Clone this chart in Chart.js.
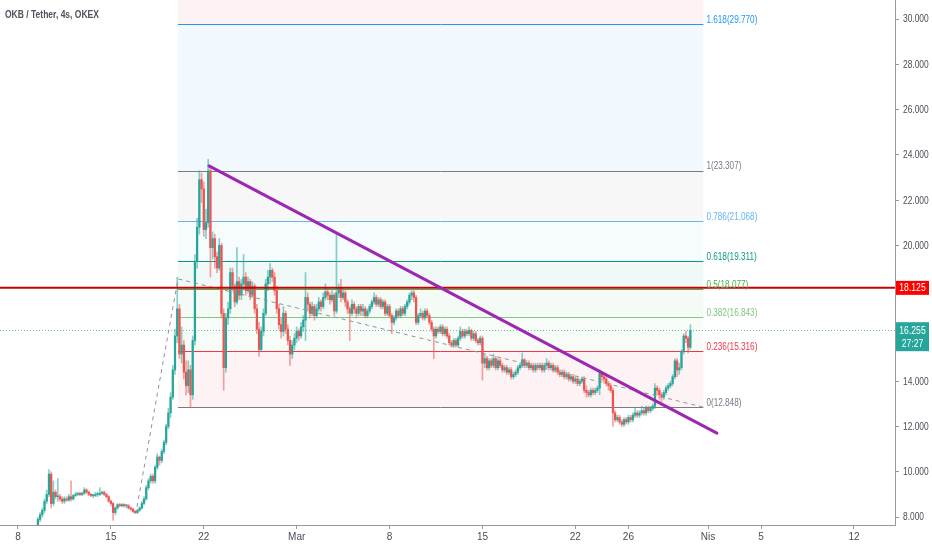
<!DOCTYPE html>
<html>
<head>
<meta charset="utf-8">
<script src="https://cdn.jsdelivr.net/npm/chart.js@4.4.1/dist/chart.umd.min.js"></script>
<style>
  html, body { margin: 0; padding: 0; background: #ffffff; }
  #wrap { width: 932px; height: 550px; position: relative; }
</style>
</head>
<body>
<div id="wrap"><canvas id="okbChart"></canvas></div>
<script>
// 4h candles, time in days counted from Feb 8 00:00; first candle is Feb 9 12:00
const firstCandleDay = 1.5;
const firstOpen = 7.6;

const closes = [
  7.9, 8.1, 8.3,                          // Feb 9
  8.7, 9.0, 9.9, 8.6, 9.1, 8.9,           // Feb 10
  8.9, 8.8, 8.7, 8.8, 8.75, 8.9,
  8.8, 8.95, 9.0, 9.05, 9.0, 9.05,
  9.2, 9.1, 9.0, 8.95, 8.95, 9.0,
  9.0, 9.05, 9.1, 9.0, 8.9, 8.7,
  8.6, 8.2, 8.4, 8.55, 8.5, 8.55,         // Feb 15
  8.5, 8.5, 8.4, 8.35, 8.25, 8.2,
  8.3, 8.4, 8.6, 8.8, 9.3, 9.6,
  9.8, 9.6, 10.2, 10.65, 10.5, 10.9,
  11.3, 12.0, 12.6, 13.3, 14.5, 16.0,
  17.2, 15.2, 15.6, 14.4, 13.8, 14.5,     // Feb 20
  13.4, 15.8, 19.3, 20.8, 22.9, 22.5,
  20.7, 21.0, 23.3, 19.9, 20.3, 19.5,
  19.0, 20.0, 17.0, 14.6, 16.8, 17.2,
  18.8, 18.2, 17.5, 18.4, 17.8, 18.3,
  18.6, 18.0, 18.4, 17.8, 18.2, 17.2,     // Feb 25
  16.3, 15.4, 16.2, 17.0, 18.3, 18.6,
  18.9, 18.6, 18.0, 17.2, 16.5, 16.2,
  17.0, 16.3, 15.8, 15.2, 15.6, 15.9,
  16.2, 16.0, 16.4, 16.7, 17.7, 17.4,     // Mar 1
  17.0, 17.3, 16.9, 17.2, 17.5, 17.3,
  17.7, 17.95, 17.8, 17.6, 17.8, 17.1,
  17.9, 18.1, 17.7, 17.9, 17.5, 17.2,
  17.0, 17.4, 17.2, 17.0, 17.3, 17.1,     // Mar 5
  17.2, 16.9, 17.1, 17.3, 17.5, 17.7,
  17.4, 17.6, 17.3, 17.5, 17.0, 17.3,
  16.9, 16.6, 16.8, 17.1, 16.9, 17.2,
  17.0, 17.3, 17.5, 17.8, 17.9, 17.7,
  16.6, 16.9, 17.0, 16.8, 17.1, 16.9,     // Mar 10
  16.6, 16.3, 16.0, 16.3, 16.2, 16.4,
  16.1, 16.3, 16.0, 15.7, 15.6, 15.8,
  15.6, 15.9, 16.2, 16.0, 16.2, 16.1,
  16.25, 15.9, 16.1, 15.8, 15.7, 15.9,
  14.8, 15.0, 14.6, 14.9, 14.7, 15.0,     // Mar 15
  14.6, 14.9, 14.7, 14.5, 14.6, 14.4,
  14.5, 14.2, 14.3, 14.4, 14.6, 14.7,
  14.95, 14.7, 14.8, 14.6, 14.7, 14.5,
  14.7, 14.6, 14.7, 14.5, 14.7, 14.8,
  14.6, 14.7, 14.5, 14.6, 14.4, 14.3,     // Mar 20
  14.4, 14.2, 14.3, 14.1, 14.2, 14.0,
  14.1, 13.9, 14.0, 14.1, 13.6, 13.5,
  13.4, 13.6, 13.5, 13.6, 13.7, 14.35,
  14.2, 14.1, 13.9, 13.8, 13.6, 12.6,
  12.3, 12.4, 12.2, 12.1, 12.3, 12.2,     // Mar 25
  12.4, 12.3, 12.5, 12.6, 12.5, 12.6,
  12.7, 12.6, 12.8, 12.7, 12.8, 12.9,
  13.7, 13.6, 13.4, 13.3, 13.5, 13.7,
  13.8, 13.9, 14.2, 14.9, 14.5, 14.6,
  15.3, 16.0, 15.9, 15.5, 16.255          // Mar 30
];

const highs = [
  8.0, 8.2, 8.4,
  8.8, 9.2, 10.1, 10.0, 9.6, 9.2,
  9.7, 9.0, 8.9, 8.9, 8.9, 9.0,
  9.6, 9.0, 9.1, 9.1, 9.1, 9.1,
  9.3, 9.25, 9.15, 9.05, 9.0, 9.1,
  9.1, 9.3, 9.15, 9.15, 9.05, 8.95,
  8.75, 8.65, 8.45, 8.6, 8.6, 8.6,
  8.6, 8.55, 8.55, 8.45, 8.4, 8.3,
  8.35, 8.45, 8.7, 8.9, 9.4, 9.7,
  9.9, 9.9, 10.3, 10.8, 10.7, 11.0,
  11.4, 12.1, 12.8, 13.5, 14.7, 16.3,
  18.6, 17.4, 16.4, 15.8, 14.9, 14.9,
  14.7, 16.0, 19.6, 21.2, 23.3, 23.2,
  22.8, 21.6, 23.8, 23.4, 20.6, 20.5,
  19.7, 20.3, 20.1, 17.2, 17.0, 17.5,
  19.0, 19.0, 18.3, 19.9, 18.6, 18.5,
  19.6, 18.8, 18.6, 18.5, 18.4, 18.3,
  17.4, 16.6, 16.4, 17.2, 18.5, 18.9,
  19.2, 19.0, 18.8, 18.2, 17.4, 16.8,
  17.3, 17.1, 16.5, 16.0, 15.8, 16.1,
  16.4, 16.3, 16.6, 16.9, 18.8, 17.9,
  17.5, 17.5, 17.4, 17.4, 17.7, 17.6,
  17.9, 18.3, 18.1, 17.9, 18.0, 17.9,
  20.55, 18.3, 18.5, 18.1, 18.0, 17.6,
  17.3, 17.6, 17.5, 17.3, 17.4, 17.4,
  17.4, 17.3, 17.2, 17.4, 17.6, 17.9,
  17.8, 17.7, 17.7, 17.6, 17.6, 17.4,
  17.4, 17.0, 16.9, 17.2, 17.2, 17.3,
  17.3, 17.4, 17.6, 17.9, 18.0, 18.0,
  17.8, 17.0, 17.2, 17.1, 17.2, 17.2,
  17.0, 16.7, 16.4, 16.4, 16.4, 16.5,
  16.5, 16.4, 16.4, 16.1, 15.8, 15.9,
  15.9, 16.0, 16.4, 16.3, 16.3, 16.3,
  16.4, 16.3, 16.2, 16.2, 15.9, 16.0,
  16.0, 15.2, 15.1, 15.0, 15.0, 15.2,
  15.1, 15.0, 15.0, 14.8, 14.7, 14.7,
  14.6, 14.6, 14.4, 14.5, 14.7, 14.8,
  15.25, 15.0, 14.9, 14.9, 14.8, 14.8,
  14.8, 14.8, 14.8, 14.8, 14.8, 15.0,
  14.9, 14.8, 14.8, 14.7, 14.7, 14.5,
  14.5, 14.5, 14.4, 14.4, 14.3, 14.3,
  14.2, 14.2, 14.1, 14.2, 14.2, 13.8,
  13.6, 13.7, 13.7, 13.7, 13.8, 14.5,
  14.4, 14.3, 14.2, 14.0, 13.9, 13.7,
  12.7, 12.5, 12.5, 12.3, 12.4, 12.4,
  12.5, 12.5, 12.6, 12.8, 12.7, 12.7,
  12.9, 12.8, 12.9, 12.9, 12.9, 13.0,
  13.9, 13.8, 13.7, 13.5, 13.6, 13.8,
  13.9, 14.0, 14.3, 15.0, 15.0, 14.8,
  15.4, 16.1, 16.2, 16.0, 16.5
];

const lows = [
  7.5, 7.8, 8.0,
  8.2, 8.6, 8.9, 8.4, 8.5, 8.8,
  8.7, 8.7, 8.6, 8.6, 8.7, 8.7,
  8.7, 8.75, 8.9, 8.95, 8.95, 8.95,
  9.0, 9.05, 8.95, 8.9, 8.85, 8.9,
  8.9, 8.95, 9.0, 8.95, 8.85, 8.65,
  8.5, 7.85, 8.1, 8.35, 8.45, 8.45,
  8.45, 8.4, 8.35, 8.3, 8.2, 8.15,
  8.15, 8.25, 8.35, 8.55, 8.75, 9.2,
  9.5, 9.5, 9.5, 10.1, 10.3, 10.4,
  10.8, 11.2, 11.9, 12.4, 13.2, 14.3,
  15.7, 15.0, 14.8, 14.1, 13.4, 13.5,
  12.85, 13.2, 15.6, 19.0, 20.5, 21.9,
  20.4, 20.3, 20.8, 18.6, 19.4, 19.0,
  18.8, 18.9, 16.8, 13.6, 14.4, 16.5,
  17.0, 18.0, 17.3, 17.4, 17.6, 17.6,
  18.1, 17.8, 17.9, 17.6, 17.7, 17.0,
  16.1, 15.1, 15.3, 16.0, 16.9, 18.0,
  18.3, 18.4, 17.8, 17.0, 16.3, 15.9,
  16.0, 16.1, 15.6, 14.7, 15.0, 15.4,
  15.7, 15.8, 15.9, 16.2, 15.8, 17.1,
  16.8, 16.9, 16.7, 16.8, 17.1, 17.1,
  17.2, 17.6, 17.6, 17.4, 17.5, 16.9,
  17.0, 17.7, 17.5, 17.6, 17.3, 17.0,
  15.8, 16.9, 17.0, 16.8, 16.9, 16.9,
  16.9, 16.8, 16.8, 17.0, 17.2, 17.4,
  17.3, 17.3, 17.2, 17.2, 16.9, 16.9,
  16.8, 16.1, 16.5, 16.7, 16.8, 16.8,
  16.9, 16.9, 17.2, 17.4, 17.6, 17.5,
  16.5, 16.5, 16.8, 16.7, 16.7, 16.8,
  16.5, 16.2, 15.0, 15.9, 16.1, 16.1,
  16.0, 16.0, 15.9, 15.6, 15.5, 15.5,
  15.5, 15.5, 15.8, 15.9, 15.9, 16.0,
  16.0, 15.8, 15.8, 15.7, 15.6, 15.6,
  14.05, 14.6, 14.5, 14.5, 14.6, 14.6,
  14.5, 14.5, 14.6, 14.4, 14.4, 14.3,
  14.3, 14.1, 14.1, 14.2, 14.3, 14.5,
  14.6, 14.6, 14.6, 14.5, 14.5, 14.4,
  14.4, 14.5, 14.5, 14.4, 14.4, 14.6,
  14.5, 14.5, 14.4, 14.4, 14.3, 14.2,
  14.2, 14.1, 14.1, 14.0, 14.0, 13.9,
  13.9, 13.8, 13.8, 13.9, 13.5, 13.3,
  13.3, 13.3, 13.4, 13.4, 13.5, 13.4,
  14.0, 13.9, 13.8, 13.6, 13.5, 12.0,
  12.2, 12.2, 12.1, 12.0, 12.0, 12.1,
  12.1, 12.2, 12.2, 12.4, 12.4, 12.4,
  12.5, 12.5, 12.5, 12.6, 12.6, 12.7,
  12.8, 13.4, 13.2, 13.1, 13.2, 13.4,
  13.6, 13.7, 13.8, 14.1, 14.2, 14.3,
  14.5, 15.2, 15.7, 15.25, 15.4
];

// axis ticks
const priceTicks = [8, 10, 12, 14, 16, 18, 20, 22, 24, 26, 28, 30];
const dateTicks = [0, 7, 14, 21, 28, 35, 42, 46, 52, 56, 63];
const dateLabels = ['8', '15', '22', 'Mar', '8', '15', '22', '26', 'Nis', '5', '12'];

// fibonacci retracement drawing
const fibLevels = ['0', '0.236', '0.382', '0.5', '0.618', '0.786', '1', '1.618'];
const fibPrices = [12.848, 15.316, 16.843, 18.077, 19.311, 21.068, 23.307, 29.770];
const fibColors = ['#787b86', '#f23645', '#81c784', '#4caf50', '#089981', '#64b5f6', '#787b86', '#2196f3'];
const fibAboveColor = '#f23645';
const fibStartDay = 12.05;
const fibEndDay = 51.65;

// drawn trend lines (day, price)
const purpleLine = [[14.39, 23.51], [52.67, 11.71]];
const dashedLine = [[8.97, 8.45], [12.06, 18.52], [51.62, 12.86]];

const resistancePrice = 18.125;
const lastPrice = 16.255;
const countdown = '27:27';

const upColor = '#26a69a';
const downColor = '#ef5350';
const textFont = '"Liberation Sans", Arial, sans-serif';

const opens = closes.map((c, i) => i === 0 ? firstOpen : closes[i - 1]);
const times = closes.map((c, i) => firstCandleDay + i / 6);
const isUp = closes.map((c, i) => c >= opens[i]);

const bodyData = closes.map((c, i) => ({ x: times[i], y: [Math.min(opens[i], c), Math.max(opens[i], c)] }));
const wickData = closes.map((c, i) => ({ x: times[i], y: [lows[i], highs[i]] }));

// TradingView's labels are narrow, so squeeze text horizontally
function narrowText(ctx, text, x, y, squeeze) {
    ctx.save();
    ctx.translate(x, y);
    ctx.scale(squeeze, 1);
    ctx.fillText(text, 0, 0);
    ctx.restore();
}

function clipToArea(ctx, area) {
    ctx.beginPath();
    ctx.rect(area.left, area.top, area.right - area.left, area.bottom - area.top);
    ctx.clip();
}

const overlay = {
    id: 'overlay',
    beforeDatasetsDraw(chart) {
        const { ctx, chartArea, scales } = chart;
        const x = scales.x, y = scales.y;
        ctx.save();
        clipToArea(ctx, chartArea);
        const xl = x.getPixelForValue(fibStartDay);
        const xr = x.getPixelForValue(fibEndDay);
        // fills between levels
        ctx.globalAlpha = 0.06;
        for (let k = 0; k < fibPrices.length; k++) {
            const bot = y.getPixelForValue(fibPrices[k]);
            const top = k + 1 < fibPrices.length ? y.getPixelForValue(fibPrices[k + 1]) : chartArea.top;
            ctx.fillStyle = k + 1 < fibPrices.length ? fibColors[k + 1] : fibAboveColor;
            ctx.fillRect(xl, top, xr - xl, bot - top);
        }
        ctx.globalAlpha = 1;
        // level lines
        ctx.lineWidth = 1;
        fibPrices.forEach((p, k) => {
            const py = Math.round(y.getPixelForValue(p)) + 0.5;
            ctx.strokeStyle = fibColors[k];
            ctx.beginPath();
            ctx.moveTo(xl, py);
            ctx.lineTo(xr, py);
            ctx.stroke();
        });
        // last price dotted line
        const lp = Math.round(y.getPixelForValue(lastPrice)) + 0.5;
        ctx.strokeStyle = 'rgba(38,166,154,0.7)';
        ctx.setLineDash([1, 2]);
        ctx.beginPath();
        ctx.moveTo(chartArea.left, lp);
        ctx.lineTo(chartArea.right, lp);
        ctx.stroke();
        ctx.setLineDash([]);
        ctx.restore();
    },
    afterDatasetsDraw(chart) {
        const { ctx, chartArea, scales } = chart;
        const x = scales.x, y = scales.y;
        ctx.save();
        clipToArea(ctx, chartArea);

        // dashed helper line
        ctx.strokeStyle = '#8f929b';
        ctx.lineWidth = 1;
        ctx.setLineDash([4, 4]);
        ctx.beginPath();
        dashedLine.forEach((pt, k) => {
            const px = x.getPixelForValue(pt[0]), py = y.getPixelForValue(pt[1]);
            if (k === 0) ctx.moveTo(px, py); else ctx.lineTo(px, py);
        });
        ctx.stroke();
        ctx.setLineDash([]);

        // resistance line
        const ry = y.getPixelForValue(resistancePrice);
        ctx.strokeStyle = '#cc0000';
        ctx.lineWidth = 2;
        ctx.beginPath();
        ctx.moveTo(chartArea.left, ry);
        ctx.lineTo(chartArea.right, ry);
        ctx.stroke();

        // purple downtrend line
        ctx.strokeStyle = '#9c27b0';
        ctx.lineWidth = 3;
        ctx.lineCap = 'round';
        ctx.beginPath();
        ctx.moveTo(x.getPixelForValue(purpleLine[0][0]), y.getPixelForValue(purpleLine[0][1]));
        ctx.lineTo(x.getPixelForValue(purpleLine[1][0]), y.getPixelForValue(purpleLine[1][1]));
        ctx.stroke();

        // fib labels
        ctx.font = '10.5px ' + textFont;
        ctx.textAlign = 'left';
        ctx.textBaseline = 'bottom';
        const lx = x.getPixelForValue(fibEndDay) + 3;
        fibPrices.forEach((p, k) => {
            ctx.fillStyle = fibColors[k];
            narrowText(ctx, fibLevels[k] + '(' + p.toFixed(3) + ')', lx, y.getPixelForValue(p) + 1, 0.78);
        });
        ctx.restore();
    },
    afterDraw(chart) {
        const { ctx, chartArea, scales } = chart;
        const y = scales.y;
        const bx = chartArea.right + 1;
        const bw = chart.width - bx - 3;
        ctx.save();

        // price scale labels
        ctx.textAlign = 'left';
        ctx.textBaseline = 'middle';
        ctx.fillStyle = '#4a4d57';
        ctx.font = '10.5px ' + textFont;
        priceTicks.forEach(v => {
            narrowText(ctx, v.toFixed(3), chartArea.right + 8, y.getPixelForValue(v) + 0.5, 0.8);
        });

        ctx.textAlign = 'center';
        // resistance price box
        const ry = y.getPixelForValue(resistancePrice);
        ctx.fillStyle = '#ff0000';
        ctx.fillRect(bx, ry - 7, bw, 14);
        ctx.fillStyle = '#ffffff';
        ctx.font = '10.5px ' + textFont;
        narrowText(ctx, resistancePrice.toFixed(3), bx + bw / 2, ry + 0.5, 0.82);

        // last price box with countdown
        const ly = y.getPixelForValue(lastPrice);
        ctx.fillStyle = '#26a69a';
        ctx.fillRect(bx, ly - 8, bw, 29);
        ctx.fillStyle = '#ffffff';
        narrowText(ctx, lastPrice.toFixed(3), bx + bw / 2, ly + 0.5, 0.82);
        narrowText(ctx, countdown, bx + bw / 2, ly + 13.5, 0.82);

        // symbol title
        ctx.textAlign = 'left';
        ctx.fillStyle = '#50535e';
        ctx.font = 'bold 11.5px ' + textFont;
        narrowText(ctx, 'OKB / Tether, 4s, OKEX', 5, 15, 0.74);
        ctx.restore();
    }
};

new Chart(document.getElementById('okbChart'), {
    type: 'bar',
    data: {
        datasets: [
            {
                label: 'body',
                data: bodyData,
                backgroundColor: isUp.map(u => u ? upColor : downColor),
                barThickness: 1.6,
                minBarLength: 1,
                grouped: false
            },
            {
                label: 'wick',
                data: wickData,
                backgroundColor: isUp.map(u => u ? 'rgba(38,166,154,0.55)' : 'rgba(239,83,80,0.55)'),
                barThickness: 1,
                grouped: false
            }
        ]
    },
    options: {
        responsive: true,
        maintainAspectRatio: false,
        animation: false,
        layout: { padding: 0 },
        plugins: {
            legend: { display: false },
            title: { display: false },
            tooltip: { enabled: false }
        },
        scales: {
            x: {
                type: 'linear',
                min: -1.356,
                max: 66.09,
                offset: false,
                afterBuildTicks: function(scale) {
                    scale.ticks = dateTicks.map(v => ({ value: v }));
                },
                afterFit: function(scale) {
                    scale.height = 25;
                    scale.paddingLeft = 0;
                    scale.paddingRight = 0;
                },
                grid: { offset: false, drawOnChartArea: false, drawTicks: true, tickLength: 4, color: '#9598a1' },
                border: { display: true, color: '#9598a1' },
                ticks: {
                    autoSkip: false,
                    maxRotation: 0,
                    padding: 2,
                    color: '#4a4d57',
                    font: { family: textFont, size: 10 },
                    callback: function(value, index) { return dateLabels[index]; }
                }
            },
            y: {
                type: 'linear',
                position: 'right',
                min: 7.65,
                max: 30.84,
                afterBuildTicks: function(scale) {
                    scale.ticks = priceTicks.map(v => ({ value: v }));
                },
                afterFit: function(scale) {
                    scale.width = 37;
                    scale.paddingTop = 0;
                    scale.paddingBottom = 0;
                },
                grid: { drawOnChartArea: false, drawTicks: true, tickLength: 4, color: '#9598a1' },
                border: { display: true, color: '#9598a1' },
                ticks: { display: false }
            }
        }
    },
    plugins: [overlay]
});
</script>
</body>
</html>
